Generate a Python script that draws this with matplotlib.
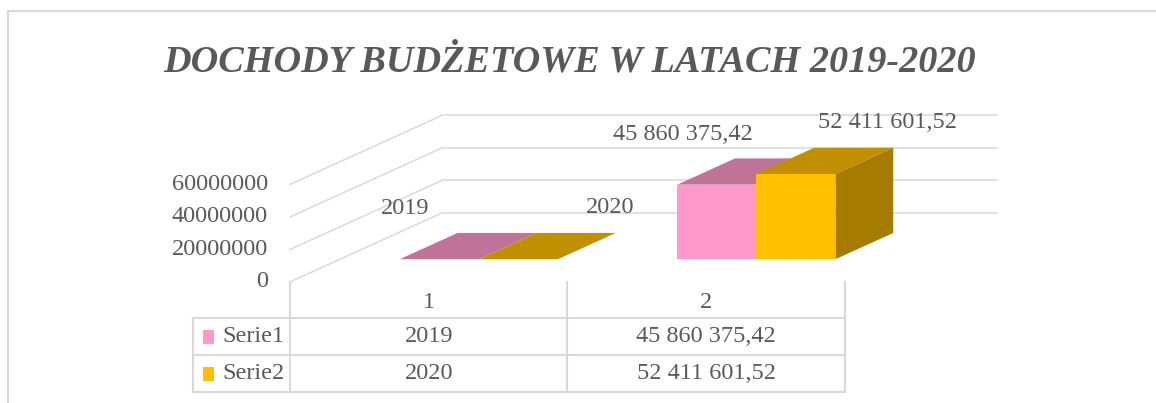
import matplotlib
matplotlib.use("Agg")
import matplotlib.pyplot as plt
from matplotlib.patches import Polygon, Rectangle
import numpy as np

# data
categories = ["1", "2"]
series_names = ["Serie1", "Serie2"]
serie1 = [2019, 45860375.42]
serie2 = [2020, 52411601.52]
yticks = [0, 20000000, 40000000, 60000000]
title = "DOCHODY BUDŻETOWE W LATACH 2019-2020"

# colours (front, top, side)
pal = [("#FF99CC", "#C07399", "#A65F86"),
       ("#FFC000", "#C09000", "#A67C00")]
txt = "#595959"
grid = "#D9D9D9"
font = "Liberation Serif"
fs = 17.5

# pseudo-3d geometry in data units
DX = 0.548          # depth vector, category units
DY = 42.5e6         # depth vector, value units
d0, d1 = 0.33, 0.71 # bar depth span
bw = 0.285          # bar width
gap = (1 - 2 * bw) / 2


def fmt(v):
    if float(v).is_integer():
        return str(int(v))
    s = f"{v:,.2f}"
    return s.replace(",", " ").replace(".", ",")


fig = plt.figure(figsize=(11.56, 4.03), dpi=100)
ax = fig.add_axes([0, 0, 1, 1])
ax.set_xlim(-1.045, 3.121)
ax.set_ylim(-74.46e6, 173.5e6)
ax.axis("off")

# outer border
fig.add_artist(plt.Line2D([0.007, 1.0], [0.973, 0.973], color=grid, lw=1.5, transform=fig.transFigure))
fig.add_artist(plt.Line2D([0.007, 0.007], [0.0, 0.973], color=grid, lw=1.5, transform=fig.transFigure))

# walls gridlines + tick labels
n = len(categories)
for t in yticks:
    ax.plot([0, DX], [t, t + DY], color=grid, lw=1.1, zorder=1)
    ax.plot([DX, n + DX], [t + DY, t + DY], color=grid, lw=1.1, zorder=1)
    ax.text(-0.08, t, str(t), ha="right", va="center", fontsize=fs,
            family=font, color=txt)

# bars
label_off = [(-92, 24), (34, 25)]
for j, vals in enumerate([serie1, serie2]):
    front, top, side = pal[j]
    for i, v in enumerate(vals):
        x0 = i + gap + j * bw + d0 * DX
        y0 = d0 * DY
        dd = d1 - d0
        ex, ey = dd * DX, dd * DY
        ax.add_patch(Rectangle((x0, y0), bw, v, facecolor=front, edgecolor="none", zorder=3 + j))
        ax.add_patch(Polygon([(x0, y0 + v), (x0 + bw, y0 + v), (x0 + bw + ex, y0 + v + ey),
                              (x0 + ex, y0 + v + ey)], closed=True, facecolor=top,
                             edgecolor="none", zorder=3 + j))
        ax.add_patch(Polygon([(x0 + bw, y0), (x0 + bw + ex, y0 + ey), (x0 + bw + ex, y0 + v + ey),
                              (x0 + bw, y0 + v)], closed=True, facecolor=side,
                             edgecolor="none", zorder=3 + j))
        ax.annotate(fmt(v), (x0 + bw / 2 + ex, y0 + v + ey), xytext=label_off[j],
                    textcoords="offset pixels", ha="center", va="center",
                    fontsize=fs, family=font, color=txt, zorder=10)

# data table (x in data, y in axes fraction)
tr = ax.get_xaxis_transform()
rows = [0.300, 0.211, 0.119, 0.027]
leg_x = -0.35
for x in range(n + 1):
    ax.plot([x, x], [rows[0], rows[3]], color=grid, lw=1.5, transform=tr, clip_on=False)
ax.plot([leg_x, leg_x], [rows[1], rows[3]], color=grid, lw=1.5, transform=tr, clip_on=False)
for r in rows[1:]:
    ax.plot([leg_x, n], [r, r], color=grid, lw=1.5, transform=tr, clip_on=False)

for i, c in enumerate(categories):
    ax.text(i + 0.5, (rows[0] + rows[1]) / 2 - 0.005, c, transform=tr, ha="center", va="center",
            fontsize=fs, family=font, color=txt)

for j, (name, vals) in enumerate(zip(series_names, [serie1, serie2])):
    yc = (rows[j + 1] + rows[j + 2]) / 2
    ax.add_patch(Rectangle((leg_x + 0.036, yc - 0.018), 0.04, 0.034, transform=tr,
                           facecolor=pal[j][0], edgecolor="none", clip_on=False))
    ax.text(leg_x + 0.105, yc, name, transform=tr, ha="left", va="center",
            fontsize=fs, family=font, color=txt)
    for i, v in enumerate(vals):
        ax.text(i + 0.5, yc, fmt(v), transform=tr, ha="center", va="center",
                fontsize=fs, family=font, color=txt)

fig.text(0.493, 0.822, title, ha="center", va="baseline", fontsize=27.5,
         family=font, weight="bold", style="italic", color=txt)

fig.savefig("out.png", dpi=100)
